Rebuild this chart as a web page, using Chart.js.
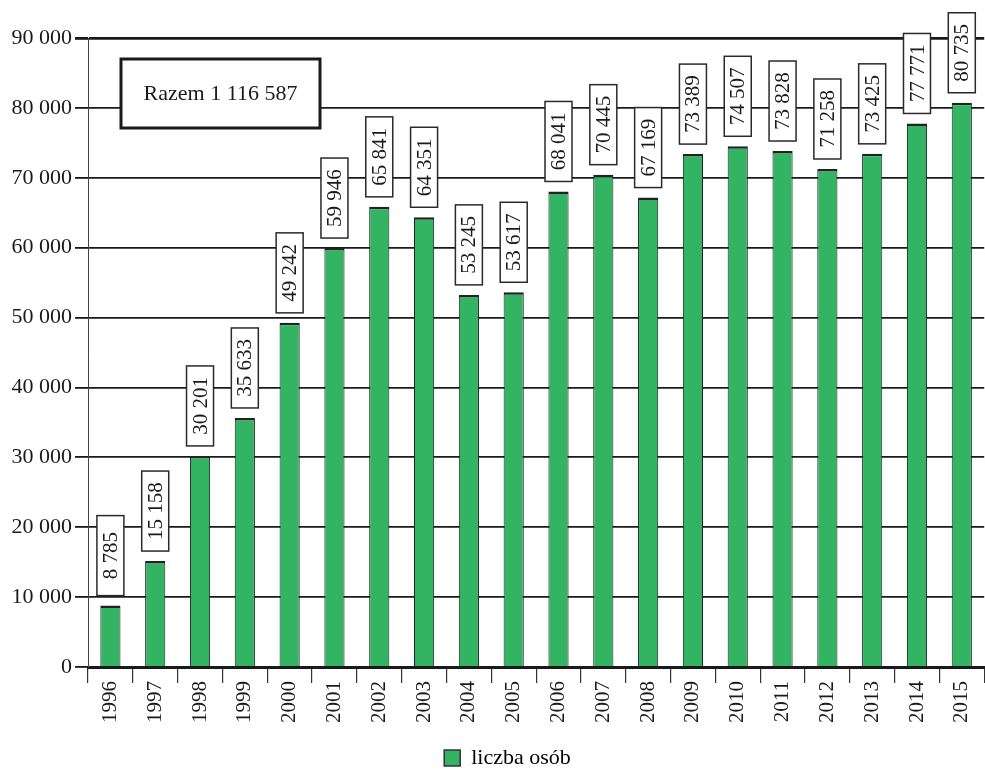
<!DOCTYPE html>
<html>
<head>
<meta charset="utf-8">
<script src="https://cdn.jsdelivr.net/npm/chart.js@4/dist/chart.umd.min.js"></script>
<style>
  html, body { margin: 0; padding: 0; background: #ffffff; }
  #wrap { width: 985px; height: 771px; position: relative; }
</style>
</head>
<body>
<div id="wrap"><canvas id="chart" width="985" height="771"></canvas></div>
<script>
// Liczba osób w poszczególnych latach
const years = ['1996','1997','1998','1999','2000','2001','2002','2003','2004','2005',
               '2006','2007','2008','2009','2010','2011','2012','2013','2014','2015'];
const persons = [8785, 15158, 30201, 35633, 49242, 59946, 65841, 64351, 53245, 53617,
                 68041, 70445, 67169, 73389, 74507, 73828, 71258, 73425, 77771, 80735];
const yTicks = [0, 10000, 20000, 30000, 40000, 50000, 60000, 70000, 80000, 90000];
const seriesName = 'liczba osób';
const totalLabel = 'Razem 1 116 587';

const SERIF = '"Liberation Serif", "Times New Roman", serif';
const GREEN = 'rgb(51,180,99)';
const INK = '#1a1a1a';

// 12345 -> "12 345"
function fmt(v) {
  return String(v).replace(/\B(?=(\d{3})+(?!\d))/g, ' ');
}

// Nudge the legend a little right and down under the plot
const legendNudge = {
  id: 'legendNudge',
  afterLayout(chart) {
    const lg = chart.legend;
    if (!lg) return;
    lg.left += 15; lg.right += 15;
    lg.top += 8; lg.bottom += 8;
  }
};

// Rotated value boxes above every bar and the "Razem" box
const annotations = {
  id: 'annotations',
  afterDatasetsDraw(chart) {
    const ctx = chart.ctx;
    const meta = chart.getDatasetMeta(0);
    const boxW = 27, boxH = 80, gap = 10;
    ctx.save();
    meta.data.forEach((bar, i) => {
      const cx = bar.x;
      const bottom = bar.y - gap;
      ctx.fillStyle = '#ffffff';
      ctx.fillRect(cx - boxW / 2, bottom - boxH, boxW, boxH);
      ctx.strokeStyle = '#2a2a2a';
      ctx.lineWidth = 1.5;
      ctx.strokeRect(cx - boxW / 2, bottom - boxH, boxW, boxH);
      ctx.save();
      ctx.translate(cx + 1, bottom - boxH / 2);
      ctx.rotate(-Math.PI / 2);
      ctx.fillStyle = INK;
      ctx.font = '21px ' + SERIF;
      ctx.textAlign = 'center';
      ctx.textBaseline = 'middle';
      ctx.fillText(fmt(persons[i]), 0, 0);
      ctx.restore();
    });

    // total box in the upper-left corner of the plot
    const a = chart.chartArea;
    const bx = a.left + 33, by = a.top + 21, bw = 199, bh = 69;
    ctx.fillStyle = '#ffffff';
    ctx.fillRect(bx, by, bw, bh);
    ctx.strokeStyle = INK;
    ctx.lineWidth = 3;
    ctx.strokeRect(bx, by, bw, bh);
    ctx.fillStyle = INK;
    ctx.font = '22px ' + SERIF;
    ctx.textAlign = 'center';
    ctx.textBaseline = 'middle';
    ctx.fillText(totalLabel, bx + bw / 2, by + bh / 2 + 1);
    ctx.restore();
  }
};

new Chart(document.getElementById('chart'), {
  type: 'bar',
  data: {
    labels: years,
    datasets: [{
      label: seriesName,
      data: persons,
      backgroundColor: GREEN,
      borderColor: '#222222',
      borderWidth: { top: 2.5, left: 1, right: 1, bottom: 0 },
      borderSkipped: false,
      categoryPercentage: 1,
      barPercentage: 0.45
    }]
  },
  options: {
    responsive: false,
    animation: false,
    devicePixelRatio: 1,
    layout: { padding: { top: 38, right: 0, left: 0, bottom: 0 } },
    plugins: {
      legend: {
        display: true,
        position: 'bottom',
        labels: {
          color: INK,
          font: { family: SERIF, size: 22 },
          boxWidth: 16,
          boxHeight: 16,
          padding: 8,
          generateLabels(chart) {
            return [{
              text: seriesName,
              fillStyle: GREEN,
              strokeStyle: '#333333',
              lineWidth: 1.5,
              datasetIndex: 0
            }];
          }
        }
      },
      tooltip: { enabled: false }
    },
    scales: {
      x: {
        offset: true,
        grid: {
          offset: true,
          drawOnChartArea: false,
          drawTicks: true,
          tickLength: 16,
          color: '#333333',
          lineWidth: 1.2
        },
        border: { display: true, color: INK, width: 3 },
        ticks: {
          color: INK,
          font: { family: SERIF, size: 21 },
          minRotation: 90,
          maxRotation: 90,
          padding: -2,
          autoSkip: false
        },
        afterFit(scale) {
          const legendH = scale.chart.legend ? scale.chart.legend.height : 0;
          scale.height = 771 - 667 - legendH;
        }
      },
      y: {
        min: 0,
        max: 90000,
        afterBuildTicks(scale) {
          scale.ticks = yTicks.map(v => ({ value: v }));
        },
        grid: {
          color: INK,
          lineWidth: ctx => (ctx.tick && ctx.tick.value === 90000 ? 2.8 : 1.8),
          tickLength: 13,
          drawTicks: true
        },
        border: { display: true, color: '#444444', width: 1 },
        ticks: {
          color: INK,
          font: { family: SERIF, size: 22 },
          padding: 3,
          callback: v => fmt(v)
        },
        afterFit(scale) {
          scale.width = 88;
        }
      }
    }
  },
  plugins: [annotations, legendNudge]
});
</script>
</body>
</html>
